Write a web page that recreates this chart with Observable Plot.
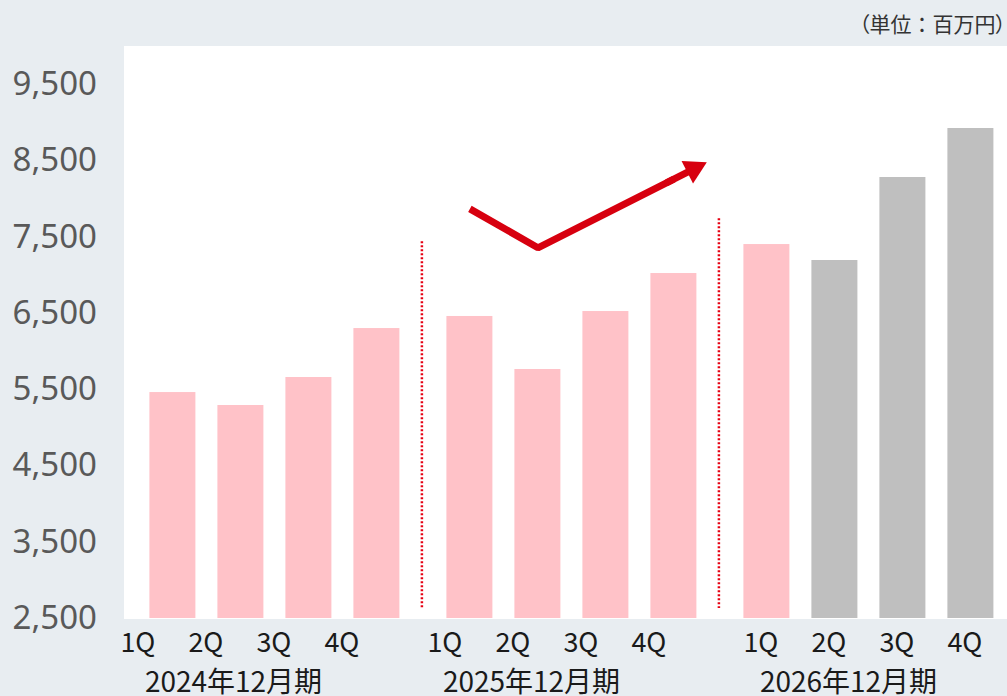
<!DOCTYPE html>
<html>
<head>
<meta charset="utf-8">
<script src="https://cdn.jsdelivr.net/npm/d3@7"></script>
<script src="https://cdn.jsdelivr.net/npm/@observablehq/plot@0.6"></script>
<style>
  html, body { margin: 0; padding: 0; background: #e8edf1; }
  #wrap { position: relative; width: 1007px; height: 696px; overflow: hidden; background: #e8edf1; }
  #panel { position: absolute; left: 124px; top: 46px; width: 883px; height: 573px; background: #ffffff; }
  #unit { position: absolute; right: 1px; top: 10px; font-family: "Noto Sans CJK JP"; font-size: 21px; line-height: 26px; color: #333333; white-space: nowrap; font-feature-settings: "palt"; }
  #unit .full { font-feature-settings: normal; }
  #chart { position: absolute; left: 0; top: 0; }
</style>
</head>
<body>
<div id="wrap">
  <div id="panel"></div>
  <div id="unit"></div>
  <div id="chart"></div>
</div>
<script>
// ---- data ----
const years = ["2024年12月期", "2025年12月期", "2026年12月期"];
const quarters = ["1Q", "2Q", "3Q", "4Q"];
const sales2024 = [5462, 5292, 5659, 6301];
const sales2025 = [6459, 5764, 6524, 7022];
const sales2026 = [7402, 7193, 8281, 8923];
const planFlags2026 = [false, true, true, true];
const yTicks = [2500, 3500, 4500, 5500, 6500, 7500, 8500, 9500];
const unitLabel = "（単位：百万円）";
const arrowYear = "2025年12月期";
const arrowQuarters = ["1Q", "2Q", "4Q"];
const arrowValues = [7870, 7360, 8260];
const separatorYears = ["2025年12月期", "2026年12月期"];
const separatorTops = [7440, 7740];
const separatorBottom = 2630;

// ---- styles ----
const pink = "#ffc2c8";
const grey = "#bfbfbf";
const red = "#d7000f";
const sepRed = "#e60012";
const quarterLabelShift = [-35, -25, -6];
const yearLabelShift = [-41, -40, -20];

// unit label: proportional parentheses, full-width colon
const unitEl = document.getElementById("unit");
unitLabel.split("").forEach(ch => {
  const s = document.createElement("span");
  if (ch === "：") s.className = "full";
  s.textContent = ch;
  unitEl.appendChild(s);
});

const seriesByYear = [sales2024, sales2025, sales2026];
const bars = years.flatMap((year, i) =>
  quarters.map((q, j) => ({
    year, q, value: seriesByYear[i][j],
    kind: (i === 2 && planFlags2026[j]) ? "plan" : "actual"
  }))
);
const arrowPts = arrowQuarters.map((q, k) => ({year: arrowYear, q, value: arrowValues[k]}));
const arrowTip = [{year: arrowYear, q: arrowQuarters[1], v1: arrowValues[1], q2: arrowQuarters[2], v2: arrowValues[2]}];
const seps = separatorYears.map((year, k) => ({year, q: quarters[0], top: separatorTops[k], bottom: separatorBottom}));

const marks = [
  Plot.barY(bars, {fx: "year", x: "q", y1: () => yTicks[0], y2: "value", fill: "kind"}),
  Plot.ruleX(seps, {fx: "year", x: "q", y1: "top", y2: "bottom", dx: -48, stroke: sepRed, strokeWidth: 2.5, strokeDasharray: "2,2"}),
  Plot.line(arrowPts, {fx: "year", x: "q", y: "value", stroke: red, strokeWidth: 7, strokeLinejoin: "miter", strokeLinecap: "butt"}),
  Plot.arrow(arrowTip, {fx: "year", x1: "q", y1: "v1", x2: "q2", y2: "v2", stroke: red, strokeWidth: 7, headLength: 0, insetStart: 145, insetEnd: -17}),
  Plot.dot([arrowPts[2]], {fx: "year", x: "q", y: "value", symbol: "triangle", r: 9.4, fill: red, stroke: null, rotate: 63, dx: 19.9, dy: -10.1}),
  Plot.axisY(yTicks, {tickFormat: d3.format(","), tickSize: 0, tickPadding: 40.6, fontSize: 33, fontFamily: "Noto Sans", fill: "#595959", label: null})
];
years.forEach((year, i) => {
  marks.push(Plot.text(bars.filter(d => d.year === year), {
    fx: "year", x: "q", text: "q", frameAnchor: "bottom", lineAnchor: "middle",
    dy: 24.5, dx: quarterLabelShift[i], fontSize: 27, fontFamily: "Noto Sans CJK JP", fill: "#1a1a1a"
  }));
  marks.push(Plot.text([year], {
    fx: d => d, text: d => d, frameAnchor: "bottom", lineAnchor: "middle",
    dy: 65, dx: yearLabelShift[i], fontSize: 28, fontFamily: "Noto Sans CJK JP", fill: "#1a1a1a"
  }));
});

const chart = Plot.plot({
  width: 1007,
  height: 696,
  marginTop: 84,
  marginBottom: 78,
  marginLeft: 135.6,
  marginRight: 1.6,
  style: {background: "transparent", fontFamily: "Noto Sans CJK JP", overflow: "visible"},
  fx: {domain: years, paddingInner: 0.078, paddingOuter: 0, axis: null, label: null},
  x: {domain: quarters, paddingInner: 0.33, paddingOuter: 0.165, axis: null, label: null},
  y: {domain: [yTicks[0], yTicks[yTicks.length - 1]], label: null},
  color: {domain: ["actual", "plan"], range: [pink, grey]},
  marks
});
document.getElementById("chart").appendChild(chart);
</script>
</body>
</html>
